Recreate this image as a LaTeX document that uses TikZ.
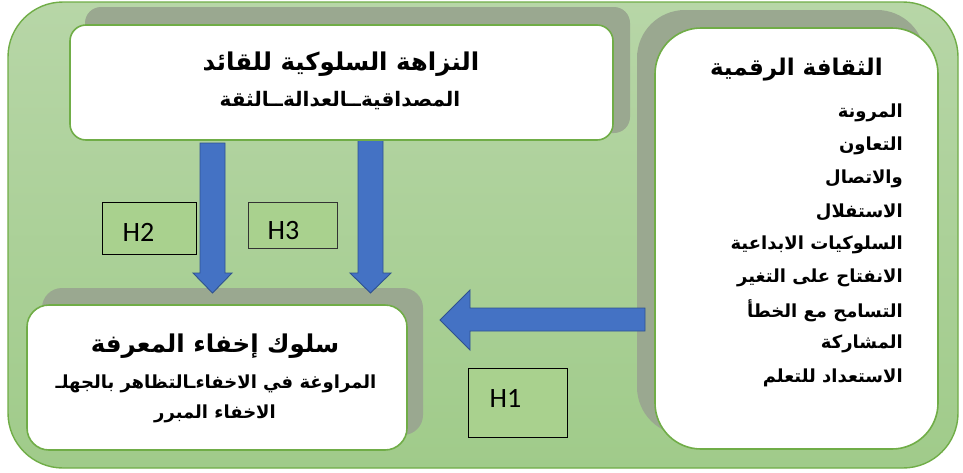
\documentclass[tikz,border=0pt]{standalone}
\usepackage{fontspec}
\setsansfont{Carlito}
\newfontfamily\arabicfont[Script=Arabic]{DejaVu Sans}
\TeXXeTstate=1
\definecolor{outgreen}{RGB}{112,173,71}
\definecolor{topgreen}{RGB}{183,214,167}
\definecolor{botgreen}{RGB}{160,203,138}
\definecolor{shadowgray}{RGB}{154,168,144}
\definecolor{hfill}{RGB}{169,209,142}
\definecolor{arrowfill}{RGB}{68,114,196}
\definecolor{arrowdraw}{RGB}{47,82,143}
\tikzset{
  shadowbox/.style={fill=shadowgray, draw=none},
  whitebox/.style={fill=white, draw=outgreen, line width=1.6pt},
  hbox/.style={draw=black, fill=hfill, line width=0.9pt, inner sep=0pt},
  hlabel/.style={inner sep=0pt, font=\sffamily\fontsize{28}{30}\selectfont},
  blockarrow/.style={fill=arrowfill, draw=arrowdraw, line width=0.9pt, line join=miter},
  artitle/.style={inner sep=0pt, font=\arabicfont\bfseries\fontsize{24.5}{30}\selectfont},
  arsub/.style={inner sep=0pt, font=\arabicfont\bfseries\fontsize{18}{24}\selectfont},
  artext/.style={inner sep=0pt, font=\arabicfont\bfseries\fontsize{18}{22}\selectfont},
}
\begin{document}
\begin{tikzpicture}[x=1pt,y=-1pt]
\useasboundingbox (0,0) rectangle (963,472);
% outer panel
\shade[top color=topgreen, bottom color=botgreen, rounded corners=55pt] (8,2) rectangle (958,468);
\draw[outgreen, line width=1.4pt, rounded corners=55pt] (8,2) rectangle (958,468);
% shadows
\fill[shadowbox, rounded corners=16pt] (85,7) rectangle (630,133);
\fill[shadowbox, rounded corners=48pt] (637,10) rectangle (925,435);
\fill[shadowbox, rounded corners=20pt] (42,288) rectangle (423,435);
% arrows
\draw[blockarrow] (200,143) -- (225,143) -- (225,273) -- (232,273) -- (212.5,293) -- (193,273) -- (200,273) -- cycle;
\draw[blockarrow] (358,140) -- (383,140) -- (383,273) -- (391,273) -- (370.5,293) -- (350,273) -- (358,273) -- cycle;
\draw[blockarrow] (645,308) -- (645,331) -- (470,331) -- (470,350) -- (440,320) -- (470,290) -- (470,308) -- cycle;
% white boxes
\draw[whitebox, rounded corners=16pt] (70,25) rectangle (613,140);
\draw[whitebox, rounded corners=46pt] (655,28) rectangle (938,449);
\draw[whitebox, rounded corners=22pt] (27,305) rectangle (407,450);
% hypothesis boxes
\node[hbox, minimum width=94pt, minimum height=52pt] (h2) at (149,228) {};
\node[hbox, minimum width=89pt, minimum height=46pt, draw=black!80] (h3) at (292.5,225) {};
\node[hbox, minimum width=99pt, minimum height=69pt] (h1) at (517.5,402.5) {};
\node[hlabel] (h2t) at (138.5,232) {H2};
\node[hlabel] (h3t) at (283.5,231) {H3};
\node[hlabel] (h1t) at (505.5,398) {H1};
% top box text
\node[artitle] (t1) at (341,64) {\beginR النزاهة السلوكية للقائد\endR};
\node[arsub, font=\arabicfont\bfseries\fontsize{20}{24}\selectfont] (t2) at (340,101) {\beginR المصداقيةــالعدالةــالثقة\endR};
% right box text
\node[artitle, font=\arabicfont\bfseries\fontsize{23}{28}\selectfont, anchor=east] (r0) at (883,70) {\beginR الثقافة الرقمية\endR};
\node[artext, anchor=east] (r1) at (903,113) {\beginR المرونة\endR};
\node[artext, anchor=east] (r2) at (903,146) {\beginR التعاون\endR};
\node[artext, anchor=east] (r3) at (903,179) {\beginR والاتصال\endR};
\node[artext, anchor=east] (r4) at (903,212) {\beginR الاستفلال\endR};
\node[artext, anchor=east] (r5) at (903,245) {\beginR السلوكيات الابداعية\endR};
\node[artext, anchor=east] (r6) at (903,278) {\beginR الانفتاح على التغير\endR};
\node[artext, anchor=east] (r7) at (903,311) {\beginR التسامح مع الخطأ\endR};
\node[artext, anchor=east] (r8) at (903,344) {\beginR المشاركة\endR};
\node[artext, anchor=east] (r9) at (903,378) {\beginR الاستعداد للتعلم\endR};
% bottom box text
\node[artitle] (b1) at (215,346) {\beginR سلوك إخفاء المعرفة\endR};
\node[arsub] (b2) at (216,384) {\beginR المراوغة في الاخفاءـالتظاهر بالجهلـ\endR};
\node[arsub] (b3) at (215,414) {\beginR الاخفاء المبرر\endR};
\end{tikzpicture}
\end{document}
